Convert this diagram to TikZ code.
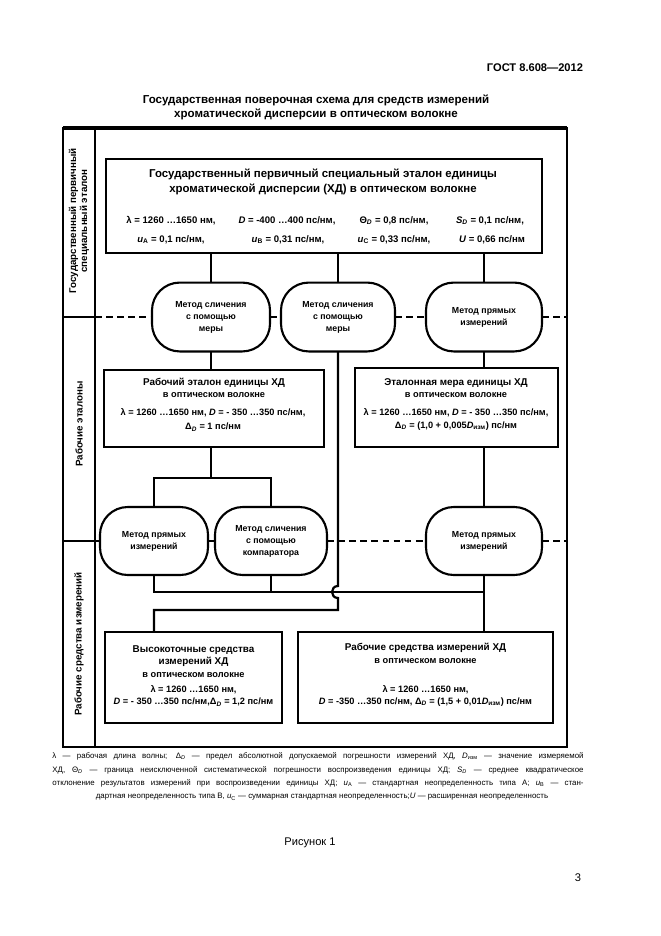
\documentclass[tikz,border=0pt]{standalone}
\usepackage{fontspec}
\setmainfont{Liberation Sans}
\usetikzlibrary{calc}
\newcommand{\ital}[1]{\textit{#1}}
\newcommand{\sbs}[1]{\textsubscript{#1}}
\begin{document}
\begin{tikzpicture}[x=0.9pt,y=-0.9pt,
  every node/.style={inner sep=0pt, outer sep=0pt},
  boxst/.style={draw, line width=2.2pt, rectangle},
  ovalst/.style={draw, line width=1.9pt, rectangle, rounded corners=25pt, fill=white, align=center, font=\fontsize{7.9}{10.8}\selectfont\bfseries, minimum height=62pt},
  conn/.style={line width=2pt},
  framest/.style={line width=2pt},
  sepst/.style={line width=1.5pt, dash pattern=on 6pt off 4pt},
  hd/.style={font=\fontsize{10.4}{12.6}\selectfont\bfseries},
  ttl/.style={font=\fontsize{8.9}{10}\selectfont\bfseries},
  subst/.style={font=\fontsize{8.3}{9}\selectfont\bfseries},
  prm/.style={font=\fontsize{8.6}{10}\selectfont\bfseries},
  lab/.style={font=\fontsize{8.8}{9.8}\selectfont\bfseries, rotate=90, align=center},
  foot/.style={font=\fontsize{7.1}{9}\selectfont},
  capst/.style={font=\fontsize{10}{12}\selectfont}
]
\fill[white] (0,0) rectangle (661,936);
\useasboundingbox (0,0) rectangle (661,936);

% header
\node[font=\fontsize{10}{12}\selectfont\bfseries, anchor=east] (gost) at (583,68) {ГОСТ 8.608—2012};
\node[hd, align=center] (title) at (316,107) {Государственная поверочная схема для средств измерений\\хроматической дисперсии в оптическом волокне};

% frame
\coordinate (FTL) at (63,128);
\coordinate (FBR) at (567,747);
\coordinate (CT) at (95,128);
\coordinate (CB) at (95,747);
\coordinate (S1) at (63,317);
\coordinate (S2) at (63,541);
\draw[framest] (FTL) rectangle (FBR);
\draw[line width=3pt] (FTL) -- (FTL -| FBR);
\draw[framest] (CT) -- (CB);
\draw[framest] (S1) -- (S1 -| CT);
\draw[framest] (S2) -- (S2 -| CT);

% left labels
\node[lab] (l1) at (79,221) {Государственный первичный\\специальный эталон};
\node[lab] (l2) at (79,424) {Рабочие эталоны};
\node[lab] (l3) at (79,644) {Рабочие средства измерений};

% top box
\node[boxst, minimum width=392.4pt, minimum height=84.6pt] (top) at (324,206) {};
\node[hd, align=center, font=\fontsize{10.3}{13.5}\selectfont\bfseries] (toptitle) at (323,181.5) {Государственный первичный специальный эталон единицы\\хроматической дисперсии (ХД) в оптическом волокне};
\node[prm] (p11) at (171,221) {λ = 1260 …1650 нм,};
\node[prm] (p12) at (287,221) {\ital{D} = -400 …400 пс/нм,};
\node[prm] (p13) at (394,221) {Θ\sbs{\ital{D}} = 0,8 пс/нм,};
\node[prm] (p14) at (490,221) {\ital{S}\sbs{\ital{D}} = 0,1 пс/нм,};
\node[prm] (p21) at (171,240) {\ital{u}\sbs{A} = 0,1 пс/нм,};
\node[prm] (p22) at (288,240) {\ital{u}\sbs{B} = 0,31 пс/нм,};
\node[prm] (p23) at (394,240) {\ital{u}\sbs{C} = 0,33 пс/нм,};
\node[prm] (p24) at (492,240) {\ital{U} = 0,66 пс/нм};

% top ovals
\node[ovalst, minimum width=106.2pt] (o1) at (211,317) {Метод сличения\\с помощью\\меры};
\node[ovalst, minimum width=102.6pt] (o2) at (338,317) {Метод сличения\\с помощью\\меры};
\node[ovalst, minimum width=104.4pt] (o3) at (484,317) {Метод прямых\\измерений};

\draw[sepst] (S1 -| CT) -- (o1.west);
\draw[sepst] (o1.east) -- (o2.west);
\draw[sepst] (o2.east) -- (o3.west);
\draw[sepst] (o3.east) -- (S1 -| FBR);

% middle boxes
\node[boxst, minimum width=198pt, minimum height=69.3pt] (ml) at (214,408.5) {};
\node[ttl] (ml1) at (214,383) {Рабочий эталон единицы ХД};
\node[subst] (ml2) at (214,395.5) {в оптическом волокне};
\node[subst] (ml3) at (213,413) {λ = 1260 …1650 нм, \ital{D} = - 350 …350 пс/нм,};
\node[subst] (ml4) at (213,427) {Δ\sbs{\ital{D}} = 1 пс/нм};

\node[boxst, minimum width=182.7pt, minimum height=71.1pt] (mr) at (456.5,407.5) {};
\node[ttl] (mr1) at (456,383) {Эталонная мера единицы ХД};
\node[subst] (mr2) at (456,395.5) {в оптическом волокне};
\node[subst] (mr3) at (456,413) {λ = 1260 …1650 нм, \ital{D} = - 350 …350 пс/нм,};
\node[subst] (mr4) at (456,426) {Δ\sbs{\ital{D}} = (1,0 + 0,005\ital{D}\sbs{изм}) пс/нм};

% bottom ovals
\node[ovalst, minimum width=97.2pt, minimum height=61.2pt] (b1) at (154,541) {Метод прямых\\измерений};
\node[ovalst, minimum width=100.8pt, minimum height=61.2pt] (b2) at (271,541) {Метод сличения\\с помощью\\компаратора};
\node[ovalst, minimum width=104.4pt, minimum height=61.2pt] (b3) at (484,541) {Метод прямых\\измерений};

\draw[framest] (S2 -| CT) -- (b1.west);
\draw[framest] (b1.east) -- (b2.west);
\draw[sepst] (b2.east) -- (b3.west);
\draw[sepst] (b3.east) -- (S2 -| FBR);

% bottom boxes
\node[boxst, minimum width=159.3pt, minimum height=81.9pt] (bl) at (193.5,677.5) {};
\node[ttl] (bl1) at (193.5,650) {Высокоточные средства};
\node[ttl] (bl2) at (193.5,662) {измерений ХД};
\node[subst] (bl3) at (193.5,675) {в оптическом волокне};
\node[subst] (bl4) at (193.5,690) {λ = 1260 …1650 нм,};
\node[subst] (bl5) at (193.5,702) {\ital{D} = - 350 …350 пс/нм,Δ\sbs{\ital{D}} = 1,2 пс/нм};

\node[boxst, minimum width=229.5pt, minimum height=81.9pt] (br) at (425.5,677.5) {};
\node[ttl] (br1) at (425.5,648) {Рабочие средства измерений ХД};
\node[subst] (br2) at (425.5,661) {в оптическом волокне};
\node[subst] (br3) at (425.5,690) {λ = 1260 …1650 нм,};
\node[subst] (br4) at (425.5,702) {\ital{D} = -350 …350 пс/нм, Δ\sbs{\ital{D}} = (1,5 + 0,01\ital{D}\sbs{изм}) пс/нм};

% connectors
\draw[conn] (o1.north |- top.south) -- (o1.north);
\draw[conn] (o2.north |- top.south) -- (o2.north);
\draw[conn] (o3.north |- top.south) -- (o3.north);
\draw[conn] (o1.south) -- (o1.south |- ml.north);
\draw[conn] (o3.south) -- (o3.south |- mr.north);

\coordinate (jm) at (211,478);
\draw[conn] (jm |- ml.south) -- (jm);
\draw[conn] (b1.north) |- (jm) -| (b2.north);
\draw[conn] (b3.north |- mr.south) -- (b3.north);

\coordinate (hop) at (338,592);
\coordinate (jl) at (338,610);
\draw[conn] (o2.south) -- ($(hop)+(0,-6)$) .. controls ($(hop)+(-8,-6)$) and ($(hop)+(-8,6)$) .. ($(hop)+(0,6)$) -- (jl) -| (b1.south |- bl.north);
\draw[conn] (b1.south) |- (b3.south |- hop);
\draw[conn] (b2.south) -- (b2.south |- hop);
\draw[conn] (b3.south) -- (b3.south |- br.north);

% footnote
\node[foot] (f1) at (318,756) {\hbox to 478pt{λ — рабочая длина волны; Δ\sbs{\ital{D}} — предел абсолютной допускаемой погрешности измерений ХД, \ital{D}\sbs{изм} — значение измеряемой}};
\node[foot] (f2) at (318,770) {\hbox to 478pt{ХД, Θ\sbs{\ital{D}} — граница неисключенной систематической погрешности воспроизведения единицы ХД; \ital{S}\sbs{\ital{D}} — среднее квадратическое}};
\node[foot] (f3) at (318,783) {\hbox to 478pt{отклонение результатов измерений при воспроизведении единицы ХД; \ital{u}\sbs{А} — стандартная неопределенность типа А; \ital{u}\sbs{В} — стан-}};
\node[foot] (f4) at (322,797) {дартная неопределенность типа В, \ital{u}\sbs{С} — суммарная стандартная неопределенность;\ital{U} — расширенная неопределенность};

\node[capst] (fig) at (310,843) {Рисунок 1};
\node[capst] (pg) at (578,878) {3};
\end{tikzpicture}
\end{document}
